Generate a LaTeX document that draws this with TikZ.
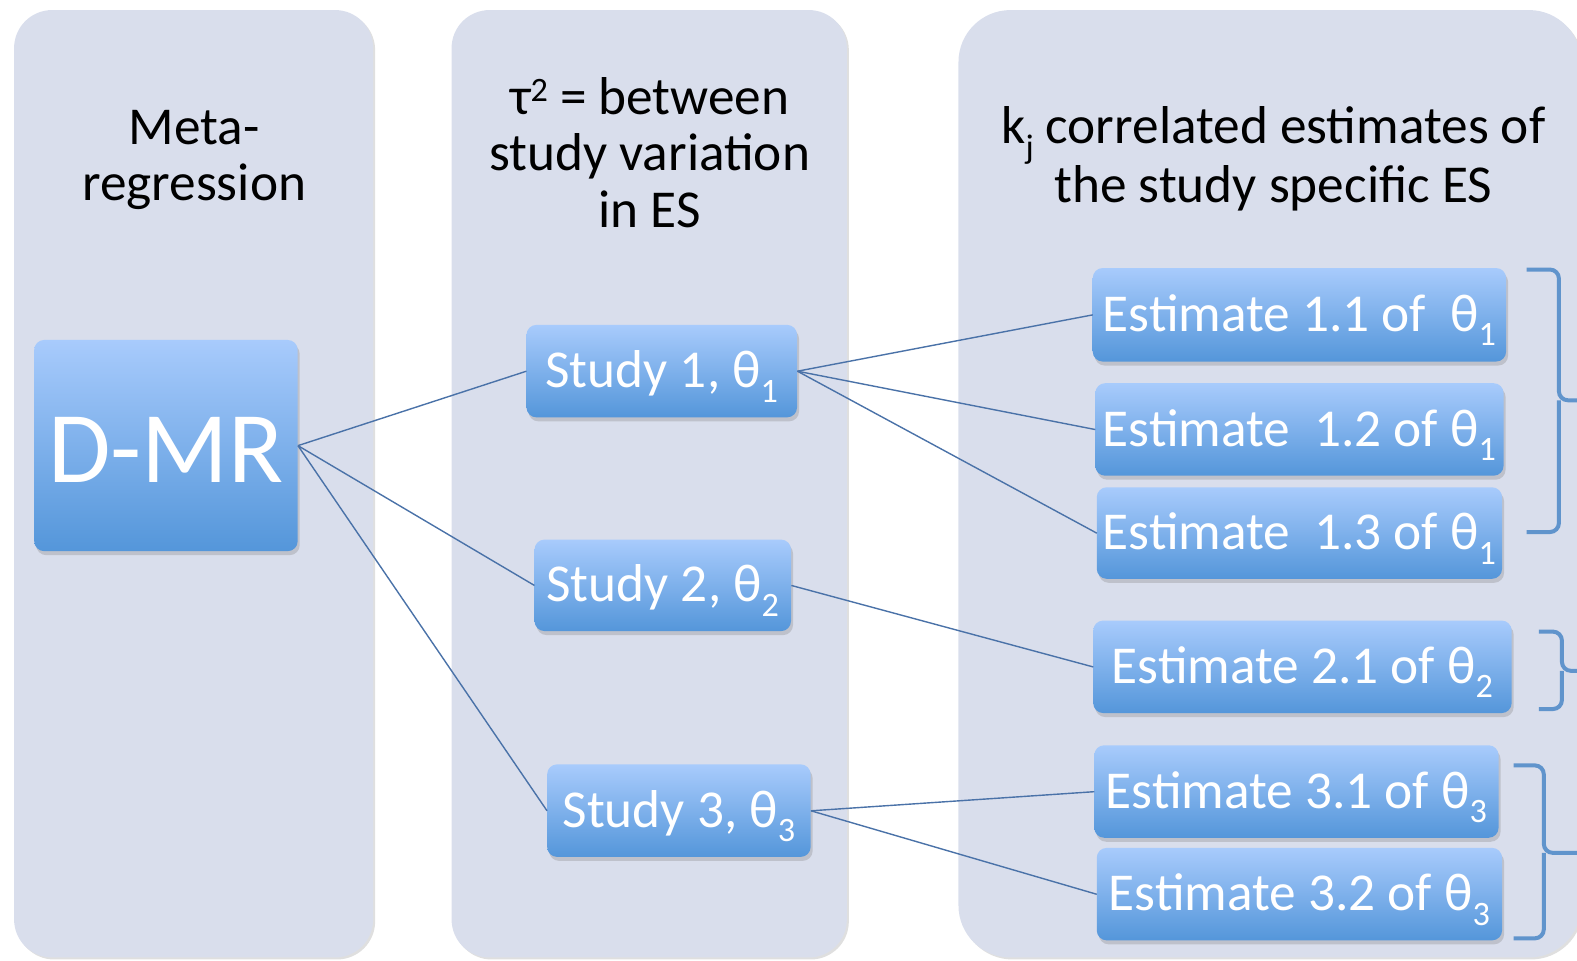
\documentclass[tikz,border=0pt]{standalone}
\usepackage{fontspec}
\setmainfont{Carlito}
\usetikzlibrary{shadows,calc}
\definecolor{PanelClr}{RGB}{217,222,236}
\definecolor{BoxTopClr}{RGB}{168,203,252}
\definecolor{BoxBotClr}{RGB}{84,150,218}
\definecolor{LinkClr}{RGB}{74,114,168}
\definecolor{BraceClr}{RGB}{96,148,204}
\newcommand{\lowidx}[1]{\raisebox{-0.27em}{\fontsize{34}{34}\selectfont #1}}
\newcommand{\highidx}[1]{\raisebox{0.24em}{\fontsize{34}{34}\selectfont #1}}

\begin{document}
\begin{tikzpicture}[x=1pt,y=-1pt,scale=1.0057,transform shape,
  panel/.style={fill=PanelClr,drop shadow={shadow xshift=2pt,shadow yshift=-2pt,opacity=0.25}},
  header/.style={anchor=north,inner sep=0pt,align=center,font=\fontsize{53}{56}\selectfont},
  bluebox/.style={rounded corners=10pt,top color=BoxTopClr,bottom color=BoxBotClr,text=white,
    font=\fontsize{53}{56}\selectfont,text height=33pt,text depth=0pt,inner sep=0pt,
    drop shadow={shadow xshift=2pt,shadow yshift=-4pt,opacity=0.3}},
  link/.style={draw=LinkClr,line width=1.4pt},
  brace/.style={draw=BraceClr,line width=4pt,rounded corners=9pt}]
\clip (0,0) rectangle (1568,955);

\path[panel,rounded corners=38pt] (14,10) rectangle (371,952);
\path[panel,rounded corners=38pt] (449,10) rectangle (842,952);
\path[panel,rounded corners=52pt] (953,10) rectangle (1572,952);

\node[header] (hd1) at (193,109) {Meta-\\regression};
\node[header] (hd2) at (646,77) {τ\highidx{2} = between\\study variation\\in ES};
\node[header] (hd3) at (1266,106) {k\lowidx{j} correlated estimates of\\the study specific ES};

\node[bluebox,minimum width=262pt,minimum height=210pt,text height=74pt,
  font=\fontsize{101}{101}\selectfont] (dmr) at (165,443) {D-MR};

\node[bluebox,minimum width=269pt,minimum height=92pt] (s1) at (658,369) {Study 1, θ\lowidx{1}};
\node[bluebox,minimum width=255pt,minimum height=91pt] (s2) at (659,582) {Study 2, θ\lowidx{2}};
\node[bluebox,minimum width=262pt,minimum height=92pt] (s3) at (675,806) {Study 3, θ\lowidx{3}};

\node[bluebox,minimum width=411pt,minimum height=93pt] (e11) at (1292,313) {Estimate 1.1 of\ \ θ\lowidx{1}};
\node[bluebox,minimum width=406pt,minimum height=92pt] (e12) at (1292,427) {Estimate\ \ 1.2 of θ\lowidx{1}};
\node[bluebox,minimum width=403pt,minimum height=91pt] (e13) at (1292,530) {Estimate\ \ 1.3 of θ\lowidx{1}};
\node[bluebox,minimum width=416pt,minimum height=92pt] (e21) at (1295,663) {Estimate 2.1 of θ\lowidx{2}};
\node[bluebox,minimum width=402pt,minimum height=92pt] (e31) at (1289,787) {Estimate 3.1 of θ\lowidx{3}};
\node[bluebox,minimum width=403pt,minimum height=92pt] (e32) at (1292,889) {Estimate 3.2 of θ\lowidx{3}};

\foreach \a/\b in {dmr/s1,dmr/s2,dmr/s3,s1/e11,s1/e12,s1/e13,s2/e21,s3/e31,s3/e32}
  \draw[link] (\a.east) -- (\b.west);

\foreach \l/\v/\t/\m/\b in {1518/1550/268/398/529,1530/1553/628/667/705,1505/1535/761/848/933}{
  \draw[brace] (\l,\t) -- (\v,\t) -- (\v,\m) -- (1600,\m);
  \draw[brace] (\l,\b) -- (\v,\b) -- (\v,\m);
}

\end{tikzpicture}
\end{document}
